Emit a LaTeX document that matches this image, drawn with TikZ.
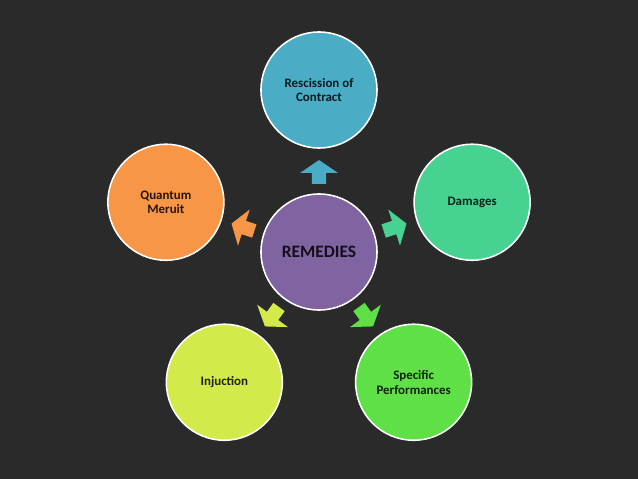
\documentclass[tikz,border=0pt]{standalone}
\usepackage{fontspec}
\setmainfont{Carlito}

\definecolor{board}{RGB}{42,42,42}
\definecolor{rescission}{RGB}{75,172,198}
\definecolor{remedies}{RGB}{128,100,162}
\definecolor{damages}{RGB}{72,210,145}
\definecolor{meruit}{RGB}{247,150,70}
\definecolor{injuction}{RGB}{212,234,74}
\definecolor{specific}{RGB}{94,224,70}

\tikzset{
    remedy/.style={circle, draw=white, line width=1.1pt, minimum size=2.9cm,
        align=center, font=\bfseries\fontsize{9.2}{10.4}\selectfont,
        fill=#1, text=#1!15!black},
}

\begin{document}
\begin{tikzpicture}[x=0.025cm, y=0.025cm]
    \fill[board] (-319,-227) rectangle (319,252);

    \node[remedy=remedies, font=\bfseries\fontsize{12.4}{15}\selectfont] (center) at (0,0) {REMEDIES};

    \node[remedy=rescission] (rescission) at (90:162) {Rescission of\\Contract};
    \node[remedy=damages] (damages) at (18:161) {Damages};
    \node[remedy=specific] (specific) at (-54:161) {Specific\\Performances};
    \node[remedy=injuction] (injuction) at (234:161) {Injuction};
    \node[remedy=meruit] (meruit) at (162:161) {Quantum\\Meruit};

    % block arrows from the centre outwards
    \foreach \ang/\col in {90/rescission, 18/damages, -54/specific, 234/injuction, 162/meruit}
        \fill[\col, rotate=\ang] (68,-7) -- (79,-7) -- (79,-19) -- (92,0)
            -- (79,19) -- (79,7) -- (68,7) -- cycle;
\end{tikzpicture}
\end{document}
